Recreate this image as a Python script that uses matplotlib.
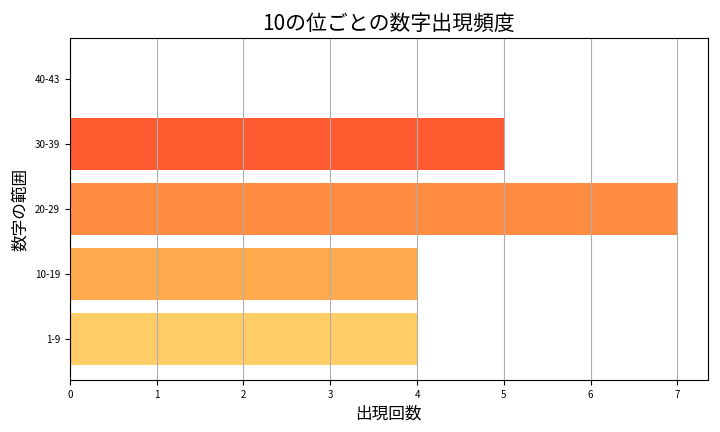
import matplotlib
matplotlib.use("Agg")
import matplotlib.pyplot as plt

plt.rcParams['font.family'] = ['Noto Sans CJK JP', 'DejaVu Sans']

ranges = ["1-9", "10-19", "20-29", "30-39", "40-43"]
counts = [4, 4, 7, 5, 0]
colors = ["#FFCC66", "#FFAA4D", "#FF8C40", "#FF5A30", "#FF3020"]

fig, ax = plt.subplots(figsize=(7.2, 4.32), dpi=100)
ax.barh(ranges, counts, color=colors, height=0.8)
ax.grid(axis="x", color="#b0b0b0", lw=0.8)
ax.set_axisbelow("line")
ax.set_title("10の位ごとの数字出現頻度", fontsize=15)
ax.set_xlabel("出現回数", fontsize=12)
ax.set_ylabel("数字の範囲", fontsize=12)
ax.tick_params(labelsize=7)
fig.subplots_adjust(left=0.097, right=0.983, top=0.912, bottom=0.12)
fig.savefig("out.png")
